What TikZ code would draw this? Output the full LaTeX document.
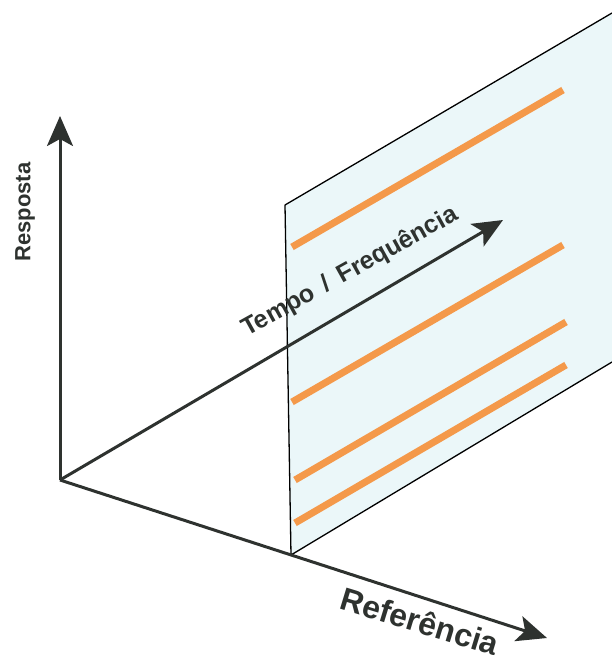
\documentclass[tikz,border=0pt]{standalone}
\usepackage{fontspec}
\setmainfont{Liberation Sans}
\usetikzlibrary{arrows.meta}

\definecolor{axisgray}{HTML}{2E322F}
\definecolor{planefill}{HTML}{EBF7F9}
\definecolor{traceorange}{HTML}{F4994A}

\tikzset{
  axisline/.style={draw=axisgray, line width=3pt, -{Stealth[length=30pt,width=26pt,inset=7pt]}},
  planeedge/.style={draw=black, line width=1.3pt, line join=round},
  trace/.style={draw=traceorange, line width=7pt},
  axislabel/.style={text=axisgray, inner sep=0pt}
}

\begin{document}
\begin{tikzpicture}[x=1pt, y=-1pt]
    \useasboundingbox (0,0) rectangle (612,662);
    % origin and axis tips
    \coordinate (O) at (60,480);
    \coordinate (resp) at (60,116);
    \coordinate (ref) at (547,638);
    \coordinate (tempo) at (503,220);
    % plane (cut by the right margin)
    \coordinate (p1) at (285,205);
    \coordinate (p2) at (612,13);
    \coordinate (p3) at (612,362);
    \coordinate (p4) at (291,555);
    \fill[planefill] (p1) -- (p2) -- (p3) -- (p4) -- cycle;
    \draw[planeedge] (p2) -- (p1) -- (p4) -- (p3);
    % orange traces on the plane
    \draw[trace] (292,247) -- (563,90);
    \draw[trace] (292,402) -- (563,245);
    \draw[trace] (295,480) -- (566,322);
    \draw[trace] (295,523) -- (566,365);
    % axes
    \draw[axisline] (O) -- (resp);
    \draw[axisline] (O) -- (ref);
    \draw[axisline] (O) -- (tempo);
    \node[axislabel, font=\fontsize{22}{24}\bfseries, rotate=90] (lresp) at (25,212) {Resposta};
    \node[axislabel, font=\fontsize{32}{34}\bfseries, rotate=-17] (lref) at (420,621) {Referência};
    \node[axislabel, font=\fontsize{25}{27}\bfseries, rotate=29] (ltempo) at (350,272) {Tempo \,/\, Frequência};
\end{tikzpicture}
\end{document}
